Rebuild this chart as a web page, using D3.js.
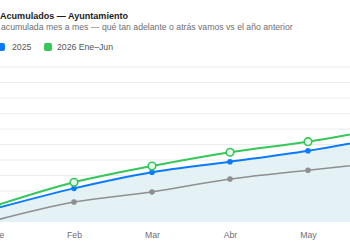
<!DOCTYPE html>
<html><head><meta charset="utf-8">
<script src="https://cdn.jsdelivr.net/npm/d3@7"></script>
<style>html,body{margin:0;padding:0;background:#fff;overflow:hidden}svg{display:block}</style>
</head><body>
<svg id="c" width="350" height="250"></svg>
<script>
const months = ["Ene","Feb","Mar","Abr","May","Jun"];
const s2024 = [1.2, 12.9, 19.4, 27.7, 33.4, 38.7];
const s2025 = [8.8, 21.7, 32.1, 38.9, 46.0, 55.0];
const s2026 = [10.6, 25.6, 36.1, 45.0, 51.8, 60.8];
const yTicks = [10,20,30,40,50,60,70,80,90,100];
const legendLabels = ["2025","2026 Ene–Jun"];

const W = 350;
const C = {gray:"#8e8e93", blue:"#0a7aff", green:"#34c759", fill:"#e2f1f4"};
const svg = d3.select("#c");
const font = "'Liberation Sans', Arial, sans-serif";

const x = d3.scalePoint().domain(months).range([-4, 386]);
const y = d3.scaleLinear().domain([0,100]).range([222, 67]);

// title
svg.append("text").attr("x",0).attr("y",18.5).attr("font-family",font).attr("font-weight","bold")
  .attr("font-size",9.8).attr("textLength",128).attr("lengthAdjust","spacingAndGlyphs")
  .attr("fill","#1c1c1e").text("Acumulados — Ayuntamiento");
svg.append("text").attr("x",1).attr("y",30).attr("font-family",font)
  .attr("font-size",8.7).attr("fill","#6e6e73").text("acumulada mes a mes — qué tan adelante o atrás vamos vs el año anterior");

// legend
const lg = svg.append("g").attr("font-family",font).attr("font-size",8.7).attr("fill","#555");
lg.append("rect").attr("x",-3).attr("y",43).attr("width",8).attr("height",8).attr("rx",2).attr("fill",C.blue);
lg.append("text").attr("x",12).attr("y",50.3).text(legendLabels[0]);
lg.append("rect").attr("x",44).attr("y",43).attr("width",8).attr("height",8).attr("rx",2).attr("fill",C.green);
lg.append("text").attr("x",57).attr("y",50.3).text(legendLabels[1]);

// grid
svg.append("g").selectAll("line").data(yTicks).join("line")
  .attr("x1",-10).attr("x2",360).attr("y1",d=>y(d)).attr("y2",d=>y(d))
  .attr("stroke","#ececec").attr("stroke-width",1);

const curve = d3.curveMonotoneX;
// area under 2025
svg.append("path").datum(s2025)
  .attr("d", d3.area().x((d,i)=>x(months[i])).y0(y(0)).y1(d=>y(d)).curve(curve))
  .attr("fill",C.fill).attr("opacity",0.9);

const line = d3.line().x((d,i)=>x(months[i])).y(d=>y(d)).curve(curve);
svg.append("path").datum(s2024).attr("d",line).attr("fill","none").attr("stroke",C.gray).attr("stroke-width",1.5);
svg.append("path").datum(s2025).attr("d",line).attr("fill","none").attr("stroke",C.blue).attr("stroke-width",2);
svg.append("path").datum(s2026).attr("d",line).attr("fill","none").attr("stroke",C.green).attr("stroke-width",2);

svg.append("g").selectAll("circle").data(s2024).join("circle")
  .attr("cx",(d,i)=>x(months[i])).attr("cy",d=>y(d)).attr("r",2.8).attr("fill",C.gray);
svg.append("g").selectAll("circle").data(s2025).join("circle")
  .attr("cx",(d,i)=>x(months[i])).attr("cy",d=>y(d)).attr("r",2.8).attr("fill",C.blue);
svg.append("g").selectAll("circle").data(s2026).join("circle")
  .attr("cx",(d,i)=>x(months[i])).attr("cy",d=>y(d)).attr("r",3.8)
  .attr("fill","#e8f8ec").attr("stroke",C.green).attr("stroke-width",1.6);

// x axis labels (only months whose position falls in view)
const ax = svg.append("g").attr("transform","translate(0,222)")
  .call(d3.axisBottom(x).tickValues(months.filter(m => x(m) < W)).tickSize(0).tickPadding(10));
ax.select(".domain").remove();
ax.selectAll("text").attr("font-family",font).attr("font-size",8.7).attr("fill","#6e6e73");
</script>
</body></html>
